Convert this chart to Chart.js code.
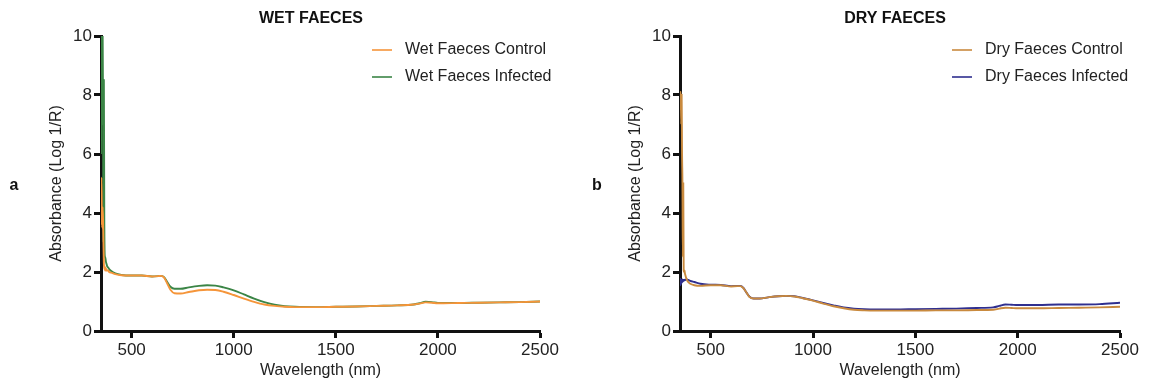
<!DOCTYPE html>
<html>
<head>
<meta charset="utf-8">
<script src="https://cdn.jsdelivr.net/npm/chart.js@4.4.1/dist/chart.umd.min.js"></script>
<style>
  body { margin: 0; background: #fff; }
  .panel { position: absolute; top: 0; width: 577px; height: 389px; }
  #panelA { left: 0; }
  #panelB { left: 577px; }
</style>
</head>
<body>
<div class="panel" id="panelA"><canvas id="grafico1" width="577" height="389"></canvas></div>
<div class="panel" id="panelB"><canvas id="grafico2" width="577" height="389"></canvas></div>
<script>
// wavelength (nm) shared by all spectra
const wavelengths = [350, 352, 354, 356, 358, 360, 362, 364, 366, 368, 370, 372, 374, 376, 378, 380,
    385, 390, 400, 420, 450,
    500, 550, 600, 630, 645, 660, 675, 690, 710, 740, 780, 830, 870, 910, 950,
    1000, 1050, 1100, 1150, 1200, 1250, 1300,
    1400, 1500, 1600, 1700, 1800,
    1880, 1910, 1940, 1970, 2000,
    2100, 2200, 2300, 2400, 2500]

const wetControl = [3.6, 5.2, 4.0, 3.5, 4.2, 3.8, 3.0, 2.3, 2.1, 2.2, 2.05, 2.15, 2.05, 2.1, 2.05, 2.05,
    2.05, 2.0, 1.98, 1.93, 1.89,
    1.88, 1.88, 1.85, 1.86, 1.87, 1.8, 1.6, 1.4, 1.28, 1.27, 1.32, 1.38, 1.4, 1.39, 1.33,
    1.22, 1.1, 0.99, 0.9, 0.85, 0.82, 0.81,
    0.81, 0.82, 0.83, 0.85, 0.87,
    0.9, 0.93, 0.97, 0.96, 0.94,
    0.95, 0.96, 0.97, 0.98, 1.0]

const wetInfected = [6.0, 10.5, 10.5, 7.0, 10.2, 7.5, 3.0, 8.5, 4.0, 2.6, 2.5, 2.45, 2.35, 2.3, 2.25, 2.2,
    2.15, 2.1, 2.03, 1.95, 1.9,
    1.88, 1.88, 1.85, 1.86, 1.87, 1.82, 1.65, 1.5, 1.43, 1.43, 1.48, 1.53, 1.55, 1.54, 1.48,
    1.38, 1.24, 1.1, 0.98, 0.89, 0.84, 0.82,
    0.81, 0.82, 0.83, 0.85, 0.87,
    0.9, 0.94, 0.99, 0.98, 0.95,
    0.95, 0.96, 0.97, 0.98, 1.0]

const dryControl = [7.5, 8.1, 8.1, 7.0, 8.0, 6.0, 5.0, 2.5, 5.0, 2.05, 2.0, 2.05, 1.95, 1.9, 1.85, 1.8,
    1.72, 1.66, 1.6, 1.55, 1.53,
    1.55, 1.55, 1.51, 1.52, 1.52, 1.45, 1.3, 1.15, 1.1, 1.1, 1.14, 1.18, 1.19, 1.17, 1.11,
    1.03, 0.93, 0.84, 0.77, 0.72, 0.7, 0.69,
    0.69, 0.69, 0.7, 0.7, 0.71,
    0.72, 0.76, 0.79, 0.78, 0.77,
    0.77, 0.78, 0.79, 0.8, 0.82]

const dryInfected = [1.8, 1.55, 1.75, 1.6, 1.7, 1.65, 1.75, 1.68, 1.72, 1.7, 1.73, 1.72, 1.74, 1.73, 1.74, 1.75,
    1.75, 1.73, 1.7, 1.66, 1.6,
    1.57, 1.56, 1.52, 1.53, 1.53, 1.46, 1.3, 1.16, 1.1, 1.1, 1.14, 1.18, 1.19, 1.18, 1.12,
    1.04, 0.95, 0.87, 0.8, 0.76, 0.74, 0.73,
    0.73, 0.74, 0.75, 0.76, 0.78,
    0.8, 0.85, 0.9, 0.89, 0.88,
    0.88, 0.9, 0.9, 0.91, 0.96]

const xTicks = [500, 1000, 1500, 2000, 2500]
const yTicks = [0, 2, 4, 6, 8, 10]

const fonte = "'Liberation Sans', Arial, sans-serif"
const corTexto = '#222'

// title, panel letter and legend drawn by hand
const decor = {
    id: 'decor',
    afterDraw(chart, args, opts) {
        let ctx = chart.ctx
        ctx.save()
        ctx.fillStyle = '#111'
        ctx.font = `bold 16px ${fonte}`
        ctx.textAlign = 'center'
        ctx.textBaseline = 'middle'
        ctx.fillText(opts.titulo, opts.tituloX, 19)
        ctx.fillText(opts.letra, opts.letraX, 186)

        ctx.font = `16px ${fonte}`
        ctx.textAlign = 'left'
        ctx.fillStyle = corTexto
        chart.data.datasets.forEach((ds, i) => {
            let y = 50 + i * 27
            ctx.strokeStyle = ds.borderColor
            ctx.lineWidth = 1.6
            ctx.beginPath()
            ctx.moveTo(opts.legendaX, y)
            ctx.lineTo(opts.legendaX + 20, y)
            ctx.stroke()
            ctx.fillText(ds.label, opts.legendaX + 33, y)
        })
        ctx.restore()
    }
}

function criaGrafico(id, series, cfg) {
    let ctx = document.getElementById(id)
    return new Chart(ctx, {
        type: 'line',
        data: {
            datasets: series.map(s => ({
                label: s.label,
                data: wavelengths.map((w, i) => ({ x: w, y: s.valores[i] })),
                borderColor: s.cor,
                borderWidth: 1.9,
                pointRadius: 0,
                cubicInterpolationMode: 'monotone',
                fill: false
            }))
        },
        options: {
            responsive: false,
            animation: false,
            layout: {
                padding: { left: cfg.padLeft, right: cfg.padRight, top: 36, bottom: 9 }
            },
            plugins: {
                legend: { display: false },
                tooltip: { enabled: false },
                decor: cfg.decor
            },
            scales: {
                x: {
                    type: 'linear',
                    min: 350,
                    max: 2500,
                    afterBuildTicks: scale => { scale.ticks = xTicks.map(v => ({ value: v })) },
                    afterFit: scale => { scale.height = 49 },
                    border: { display: true, color: '#111', width: 3 },
                    grid: { drawOnChartArea: false, drawTicks: true, tickLength: 7, tickWidth: 3, tickColor: '#111' },
                    ticks: { color: corTexto, font: { family: fonte, size: 17 }, padding: 2, maxRotation: 0, callback: v => String(v) },
                    title: { display: true, text: 'Wavelength (nm)', color: corTexto, font: { family: fonte, size: 16 }, padding: 0 }
                },
                y: {
                    min: 0,
                    max: 10,
                    afterBuildTicks: scale => { scale.ticks = yTicks.map(v => ({ value: v })) },
                    afterFit: scale => { scale.width = 61 },
                    border: { display: true, color: '#111', width: 3 },
                    grid: { drawOnChartArea: false, drawTicks: true, tickLength: 7, tickWidth: 3, tickColor: '#111' },
                    ticks: { color: corTexto, font: { family: fonte, size: 17 }, padding: 2, callback: v => String(v) },
                    title: { display: true, text: 'Absorbance (Log 1/R)', color: corTexto, font: { family: fonte, size: 16 }, padding: { top: 7, bottom: 0 } }
                }
            }
        },
        plugins: [decor]
    })
}

criaGrafico('grafico1', [
    { label: 'Wet Faeces Control', valores: wetControl, cor: '#f5953a' },
    { label: 'Wet Faeces Infected', valores: wetInfected, cor: '#3b8546' }
], { padLeft: 40, padRight: 37, decor: { titulo: 'WET FAECES', tituloX: 311, letra: 'a', letraX: 14, legendaX: 372 } })

criaGrafico('grafico2', [
    { label: 'Dry Faeces Control', valores: dryControl, cor: '#c98a3e' },
    { label: 'Dry Faeces Infected', valores: dryInfected, cor: '#2f2f8f' }
], { padLeft: 42, padRight: 34, decor: { titulo: 'DRY FAECES', tituloX: 318, letra: 'b', letraX: 20, legendaX: 375 } })
</script>
</body>
</html>
